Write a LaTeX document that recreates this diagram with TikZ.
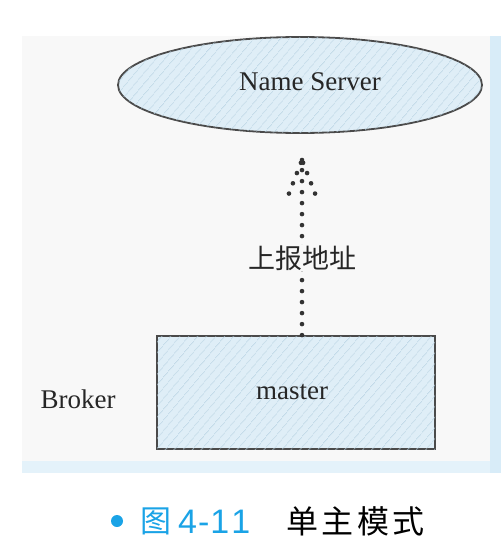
\documentclass[tikz,border=0pt]{standalone}
\usepackage{fontspec}
\setmainfont{Liberation Serif}
\newfontfamily\cjk{Noto Sans CJK SC}
\usetikzlibrary{patterns.meta,shapes.geometric}
\definecolor{panelbg}{HTML}{F8F8F8}
\definecolor{edgeblue}{HTML}{D8ECF8}
\definecolor{hatchfill}{HTML}{DFEEF7}
\definecolor{hatchline}{HTML}{B2CFE0}
\definecolor{capblue}{HTML}{1AA3E6}
\definecolor{outline}{HTML}{4A4A4A}
\tikzset{
  hatched/.style={fill=hatchfill, postaction={pattern={Lines[angle=50,distance=6.5pt,line width=0.7pt]}, pattern color=hatchline}},
  shapeline/.style={draw=outline, line width=1.8pt},
  dotline/.style={line width=4.6pt, line cap=round, dash pattern=on 0pt off 11pt, draw=black!80},
  lbl/.style={font=\fontsize{27}{29}\selectfont, text=black!85},
}
\begin{document}
\begin{tikzpicture}[x=1pt,y=-1pt]
\useasboundingbox (0,0) rectangle (501,543);
% panel
\fill[panelbg] (22,36) rectangle (490,473);
\fill[edgeblue] (490,36) rectangle (501,473);
\fill[edgeblue!70] (22,461) rectangle (490,473);
% name server
\node[ellipse, hatched, shapeline, minimum width=364pt, minimum height=96pt] (ns) at (300,85) {};
\node[lbl] (nst) at (310,82) {Name Server};
% master
\node[rectangle, hatched, shapeline, minimum width=278pt, minimum height=113pt] (m) at (296,392.5) {};
\node[lbl] (mt) at (292,392) {master};
\node[lbl] (br) at (78,399) {Broker};
% arrow
\coordinate (tip) at (302,160);
\draw[dotline] (m.north -| tip) -- (tip);
\draw[dotline, dash phase=8pt] (tip) -- ++(-14,36);
\draw[dotline, dash phase=8pt] (tip) -- ++(14,36);
\fill[black!80] (tip) circle (2.3pt);
\node[fill=panelbg, inner sep=1pt, font=\cjk\fontsize{27}{29}\selectfont, text=black!85] (rep) at (302,258) {上报地址};
% caption
\fill[capblue] (117,521) circle (6pt);
\node[anchor=west, inner sep=0pt, text=capblue, font=\cjk\fontsize{31}{33}\selectfont] (figc) at (140,521) {图};
\node[anchor=west, inner sep=0pt, text=capblue, font=\fontspec{Liberation Sans}\fontsize{34}{36}\selectfont] (fign) at (178,522) {4\kern1pt-\kern1pt1\kern2pt1};
\node[anchor=west, inner sep=0pt, font=\cjk\fontsize{32}{34}\selectfont] (capt) at (286,521) {单\hspace{3.5pt}主\hspace{3.5pt}模\hspace{3.5pt}式};
\end{tikzpicture}
\end{document}
